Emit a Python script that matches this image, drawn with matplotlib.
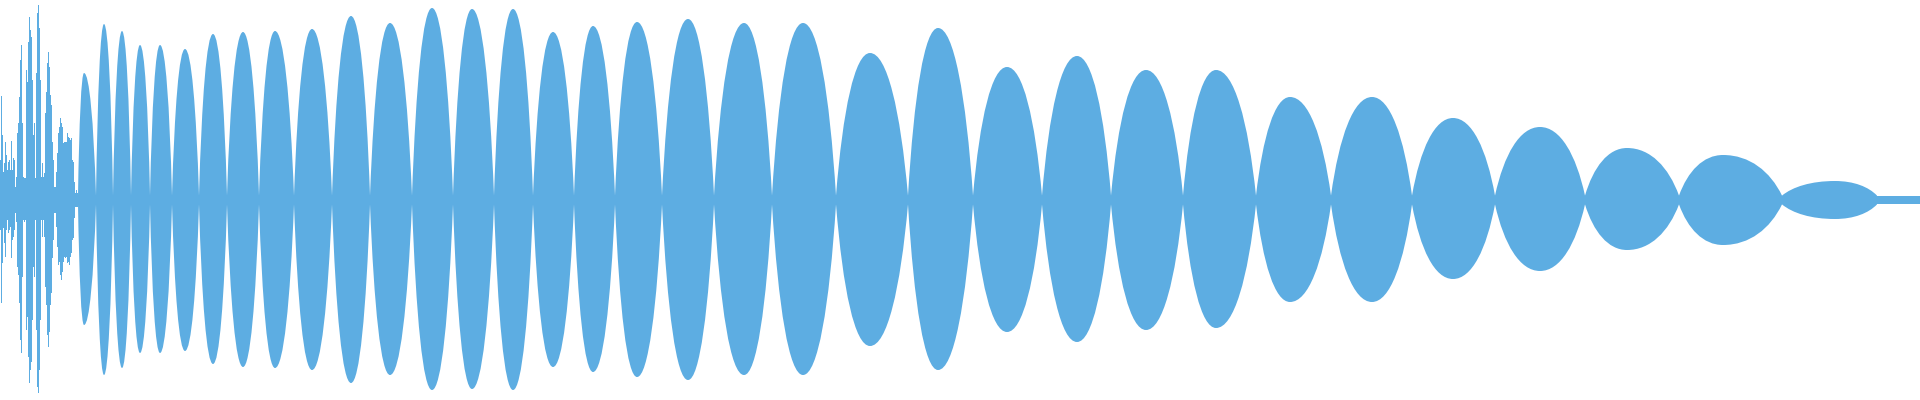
import numpy as np
import matplotlib
matplotlib.use("Agg")
import matplotlib.pyplot as plt
from matplotlib.path import Path
from matplotlib.patches import PathPatch

# ---- data (x = display column, amplitude normalised to +-1) ----
# irregular onset, one value per column (columns 0..77)
onset_top = [0.20, 0.52, 0.325, 0.14, 0.185, 0.29, 0.225, 0.15, 0.19, 0.20,
             0.15, 0.295, 0.15, 0.21, 0.20, 0.065, 0.115, 0.335, 0.385, 0.515,
             0.70, 0.775, 0.385, 0.115, 0.11, 0.11, 0.65, 0.59, 0.79, 0.915,
             0.85, 0.815, 0.60, 0.325, 0.385, 0.11, 0.635, 0.935, 0.975, 0.86,
             0.60, 0.115, 0.185, 0.115, 0.135, 0.435, 0.54, 0.685, 0.74, 0.665,
             0.525, 0.475, 0.29, 0.20, 0.065, 0.065, 0.14, 0.235, 0.335, 0.365,
             0.41, 0.385, 0.365, 0.285, 0.29, 0.29, 0.29, 0.335, 0.315, 0.31,
             0.30, 0.31, 0.20, 0.19, 0.09, 0.035, 0.05, 0.035]
onset_bottom = [-0.15, -0.515, -0.315, -0.14, -0.215, -0.285, -0.15, -0.10, -0.165, -0.15,
                -0.135, -0.29, -0.20, -0.185, -0.15, -0.065, -0.11, -0.335, -0.375, -0.515,
                -0.70, -0.765, -0.385, -0.10, -0.11, -0.10, -0.65, -0.585, -0.785, -0.915,
                -0.85, -0.81, -0.60, -0.335, -0.385, -0.10, -0.65, -0.935, -0.965, -0.85,
                -0.60, -0.10, -0.185, -0.10, -0.185, -0.435, -0.525, -0.675, -0.735, -0.66,
                -0.525, -0.465, -0.29, -0.20, -0.065, -0.065, -0.135, -0.235, -0.325, -0.31,
                -0.375, -0.40, -0.36, -0.31, -0.285, -0.29, -0.285, -0.315, -0.31, -0.325,
                -0.285, -0.265, -0.20, -0.19, -0.09, -0.035, -0.035, -0.035]

# beating lobes: node columns, and column / amplitude of each lobe's peak
node_pos = [78, 96, 113, 131, 150, 172, 199, 227, 259, 294, 332, 370, 412, 453,
            494, 533, 574, 615, 662, 714, 772, 836, 908, 973, 1042, 1111, 1183,
            1256, 1331, 1412, 1495, 1585, 1679, 1782, 1877]
peak_pos = [84, 104, 122, 140, 160, 185, 213, 243, 275, 312, 351, 390, 432, 472,
            513, 553, 593, 637, 688, 744, 803, 870, 938, 1007, 1077, 1146, 1216,
            1290, 1372, 1453, 1540, 1627, 1723, 1835]
peak_top = [0.635, 0.88, 0.845, 0.775, 0.775, 0.755, 0.83, 0.84, 0.845, 0.855,
            0.92, 0.885, 0.96, 0.955, 0.955, 0.84, 0.87, 0.89, 0.905, 0.885,
            0.885, 0.735, 0.86, 0.665, 0.72, 0.65, 0.65, 0.515, 0.515, 0.41,
            0.365, 0.26, 0.225, 0.095]
peak_bottom = [-0.625, -0.875, -0.84, -0.765, -0.765, -0.755, -0.82, -0.835, -0.84, -0.85,
               -0.915, -0.875, -0.95, -0.945, -0.95, -0.835, -0.86, -0.885, -0.90, -0.875,
               -0.875, -0.73, -0.85, -0.66, -0.71, -0.65, -0.64, -0.51, -0.51, -0.395,
               -0.355, -0.25, -0.225, -0.095]
floor_amp = 0.022      # residual amplitude at the nodes / tail
n_columns = 1920

COLOR = '#5DADE2'

fig = plt.figure(figsize=(19.2, 4.0), dpi=100)
ax = fig.add_axes([0, 0, 1, 1])
ax.set_xlim(0, n_columns)
ax.set_ylim(-1, 1)
ax.axis('off')

# onset columns
xo = np.arange(len(onset_top) + 1)
ot = np.append(onset_top, onset_top[-1])
ob = np.append(onset_bottom, onset_bottom[-1])
ax.fill_between(xo, ob, ot, step='post', color=COLOR, linewidth=0)

# residual band
ax.fill_between([node_pos[0], n_columns], [-floor_amp] * 2, [floor_amp] * 2,
                color=COLOR, linewidth=0)

# lobes drawn as smooth envelopes (cubic Bezier paths) through the read points
k1, k2, k3 = 0.20, 0.60, 0.45
for i in range(len(peak_pos)):
    x0, x1 = node_pos[i], node_pos[i + 1]
    xp, t, b = peak_pos[i], peak_top[i], peak_bottom[i]
    f = floor_amp
    dl, dr = xp - x0, x1 - xp
    verts = [
        (x0, f),
        (x0 + k1 * dl, f + k2 * (t - f)), (xp - k3 * dl, t), (xp, t),
        (xp + k3 * dr, t), (x1 - k1 * dr, f + k2 * (t - f)), (x1, f),
        (x1, -f),
        (x1 - k1 * dr, -f + k2 * (b + f)), (xp + k3 * dr, b), (xp, b),
        (xp - k3 * dl, b), (x0 + k1 * dl, -f + k2 * (b + f)), (x0, -f),
        (x0, f),
    ]
    codes = [Path.MOVETO,
             Path.CURVE4, Path.CURVE4, Path.CURVE4,
             Path.CURVE4, Path.CURVE4, Path.CURVE4,
             Path.LINETO,
             Path.CURVE4, Path.CURVE4, Path.CURVE4,
             Path.CURVE4, Path.CURVE4, Path.CURVE4,
             Path.CLOSEPOLY]
    ax.add_patch(PathPatch(Path(verts, codes), facecolor=COLOR, edgecolor='none'))

fig.savefig('out.png', dpi=100, facecolor='white')
